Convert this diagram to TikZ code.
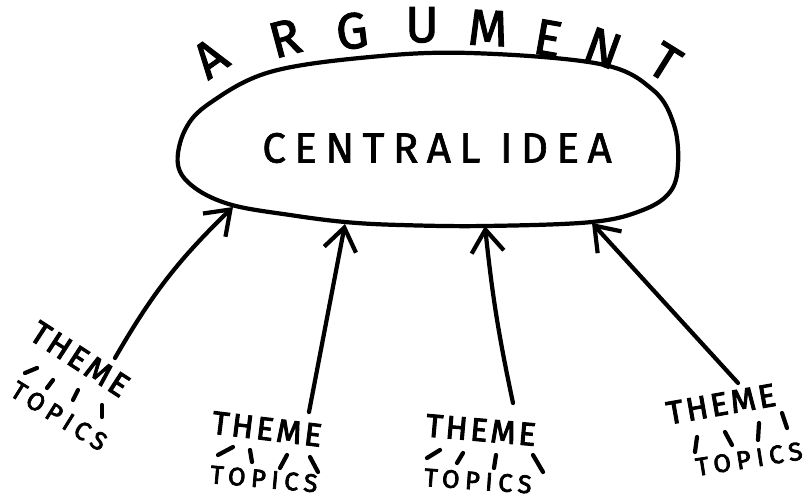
\documentclass[tikz,border=0pt]{standalone}
\usepackage{fontspec}
\setmainfont{Fira Sans}
\usetikzlibrary{arrows.meta}

\begin{document}
\begin{tikzpicture}[
  x=.025cm,y=-.025cm,
  sketch/.style={draw=black,line width=3pt,line cap=round,line join=round},
  arr/.style={sketch,-{Straight Barb[length=16pt,width=23pt]}},
  argletter/.style={font=\fontsize{36}{38}\selectfont\addfontfeature{FakeBold=2}},
  ideatext/.style={font=\fontsize{30}{32}\selectfont\addfontfeature{LetterSpace=20,FakeBold=1.5}},
  themelabel/.style={inner sep=0pt,font=\fontsize{23}{25}\selectfont\addfontfeature{LetterSpace=9,FakeBold=3}},
  topicslabel/.style={inner sep=0pt,font=\fontsize{18}{20}\selectfont\addfontfeature{LetterSpace=22,FakeBold=3}},
  topicmark/.style={line width=3pt,line cap=round}
]
  \path[use as bounding box] (0,0) rectangle (804,500);
  % the central blob
  \draw[sketch] plot[smooth cycle,tension=.6] coordinates {
    (178,165) (185,130) (210,103) (270,72) (370,57) (470,53) (600,64)
    (653,90) (674,125) (678,165) (670,192) (643,210) (592,222) (485,226)
    (400,225) (345,222) (290,215) (232,205) (195,188)};
  \node[ideatext] (idea) at (437,148) {CENTRAL IDEA};
  \coordinate (in1) at (233,207);
  \coordinate (in2) at (345,224);
  \coordinate (in3) at (485,226);
  \coordinate (in4) at (592,223);
  % ARGUMENT round the top
  \foreach \x/\y/\a/\l [count=\i] in {210/58/35/A,285/38/15/R,352/31/7/G,
      422/25/0/U,488/28/-3/M,548/38/-10/E,603/48/-20/N,665/62/-32/T}{
    \node[argletter,rotate=\a] (arg\i) at (\x,\y) {\l};
  }
  % themes
  \node[themelabel,rotate=-33] (theme1) at (80,359) {THEME};
  \node[topicslabel,rotate=-32] (topics1) at (59,416) {TOPICS};
  \node[themelabel,rotate=-7] (theme2) at (267,429) {THEME};
  \node[topicslabel,rotate=-5] (topics2) at (264,479) {TOPICS};
  \node[themelabel,rotate=-5] (theme3) at (481,430) {THEME};
  \node[topicslabel,rotate=-4] (topics3) at (478,481) {TOPICS};
  \node[themelabel,rotate=10] (theme4) at (721,404) {THEME};
  \node[topicslabel,rotate=9] (topics4) at (749,459) {TOPICS};
  \foreach \a/\b/\c/\d in {25/373/37/368,47/388/53/380,73/400/78/390,102/417/102/405,
      218/455/233/447,250/450/252/462,280/468/287/455,310/457/318/472,
      427/458/440/450,457/463/463/453,496/455/494/468,533/455/543/472,
      697/437/695/452,725/432/732/445,759/423/758/440,782/413/787/428}{
    \draw[topicmark] (\a,\b)--(\c,\d);
  }
  % arrows up to the idea
  \coordinate (s1) at (115,358);
  \coordinate (s2) at (309,412);
  \coordinate (s3) at (513,403);
  \coordinate (s4) at (738,383);
  \draw[arr] (s1) to[bend left=8] (in1);
  \draw[arr] (s2) -- (in2);
  \draw[arr] (s3) to[bend left=3] (in3);
  \draw[arr] (s4) -- (in4);
\end{tikzpicture}
\end{document}
